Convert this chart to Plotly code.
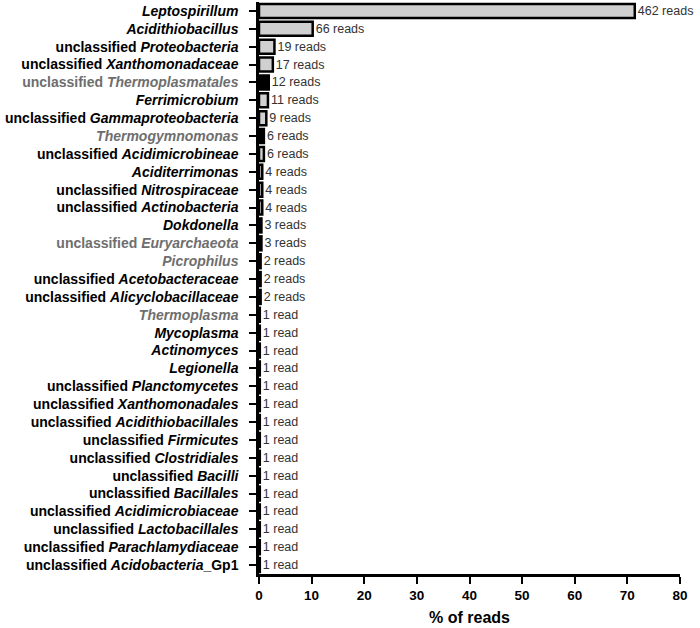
import plotly.graph_objects as go

# ==========================================================
# DATA
# ==========================================================

taxa = [
    "Leptospirillum",
    "Acidithiobacillus",
    "unclassified Proteobacteria",
    "unclassified Xanthomonadaceae",
    "unclassified Thermoplasmatales",
    "Ferrimicrobium",
    "unclassified Gammaproteobacteria",
    "Thermogymnomonas",
    "unclassified Acidimicrobineae",
    "Aciditerrimonas",
    "unclassified Nitrospiraceae",
    "unclassified Actinobacteria",
    "Dokdonella",
    "unclassified Euryarchaeota",
    "Picrophilus",
    "unclassified Acetobacteraceae",
    "unclassified Alicyclobacillaceae",
    "Thermoplasma",
    "Mycoplasma",
    "Actinomyces",
    "Legionella",
    "unclassified Planctomycetes",
    "unclassified Xanthomonadales",
    "unclassified Acidithiobacillales",
    "unclassified Firmicutes",
    "unclassified Clostridiales",
    "unclassified Bacilli",
    "unclassified Bacillales",
    "unclassified Acidimicrobiaceae",
    "unclassified Lactobacillales",
    "unclassified Parachlamydiaceae",
    "unclassified Acidobacteria_Gp1",
]

reads = [462, 66, 19, 17, 12, 11, 9, 6, 6, 4, 4, 4, 3, 3, 2, 2, 2,
         1, 1, 1, 1, 1, 1, 1, 1, 1, 1, 1, 1, 1, 1, 1]

archaea = [
    "unclassified Thermoplasmatales",
    "Thermogymnomonas",
    "unclassified Euryarchaeota",
    "Picrophilus",
    "Thermoplasma",
]

x_ticks = [0, 10, 20, 30, 40, 50, 60, 70, 80]

# ==========================================================
# HELPERS
# ==========================================================

total = sum(reads)
percent = [r / total * 100 for r in reads]


def label_html(name):
    prefix = ""
    if name.startswith("unclassified "):
        prefix = "unclassified "
        name = name[len("unclassified "):]
    suffix = ""
    if "_" in name:
        name, rest = name.split("_", 1)
        suffix = "_" + rest
    txt = "<b>" + prefix + "<i>" + name + "</i>" + suffix + "</b>"
    return txt


tick_text = []
bar_colors = []
for t in taxa:
    html = label_html(t)
    if t in archaea:
        html = "<span style='color:#6e6e6e'>" + html + "</span>"
        bar_colors.append("#000000")
    else:
        bar_colors.append("#d0d0d0")
    tick_text.append(html)

read_text = [
    "%d read" % r if r == 1 else "%d reads" % r
    for r in reads
]

# ==========================================================
# FIGURE
# ==========================================================

fig = go.Figure(

    go.Bar(
        x=percent,
        y=taxa,
        orientation="h",
        width=0.78,
        marker=dict(
            color=bar_colors,
            line=dict(color="#000000", width=2.5)
        ),
        text=read_text,
        textposition="outside",
        constraintext="none",
        cliponaxis=False,
        textfont=dict(
            family="Liberation Sans, Arial",
            size=12.5,
            color="#333333"
        )
    )

)

fig.update_layout(

    width=700,
    height=628,

    margin=dict(
        l=259,
        r=20,
        t=2,
        b=54
    ),

    plot_bgcolor="white",
    paper_bgcolor="white",
    showlegend=False,

    font=dict(
        family="Liberation Sans, Arial",
        color="#000000"
    )

)

fig.update_xaxes(
    range=[0, 80],
    tickvals=x_ticks,
    ticktext=["<b>%d</b>" % v for v in x_ticks],
    tickfont=dict(size=13.5),
    ticks="outside",
    ticklen=7,
    tickwidth=2,
    tickcolor="#000000",
    showline=True,
    linecolor="#000000",
    linewidth=2.5,
    showgrid=False,
    zeroline=False,
    title=dict(
        text="<b>% of reads</b>",
        font=dict(size=16),
        standoff=10
    )
)

fig.update_yaxes(
    categoryorder="array",
    categoryarray=taxa,
    autorange="reversed",
    tickvals=taxa,
    ticktext=tick_text,
    tickfont=dict(size=14),
    ticks="outside",
    ticklen=7,
    tickwidth=2,
    tickcolor="#000000",
    ticklabelstandoff=8,
    showline=True,
    linecolor="#000000",
    linewidth=2.5,
    showgrid=False,
    zeroline=False
)

fig.write_html(
    "out.html",
    config={"displayModeBar": False},
    post_script="document.body.style.margin='0';"
)
